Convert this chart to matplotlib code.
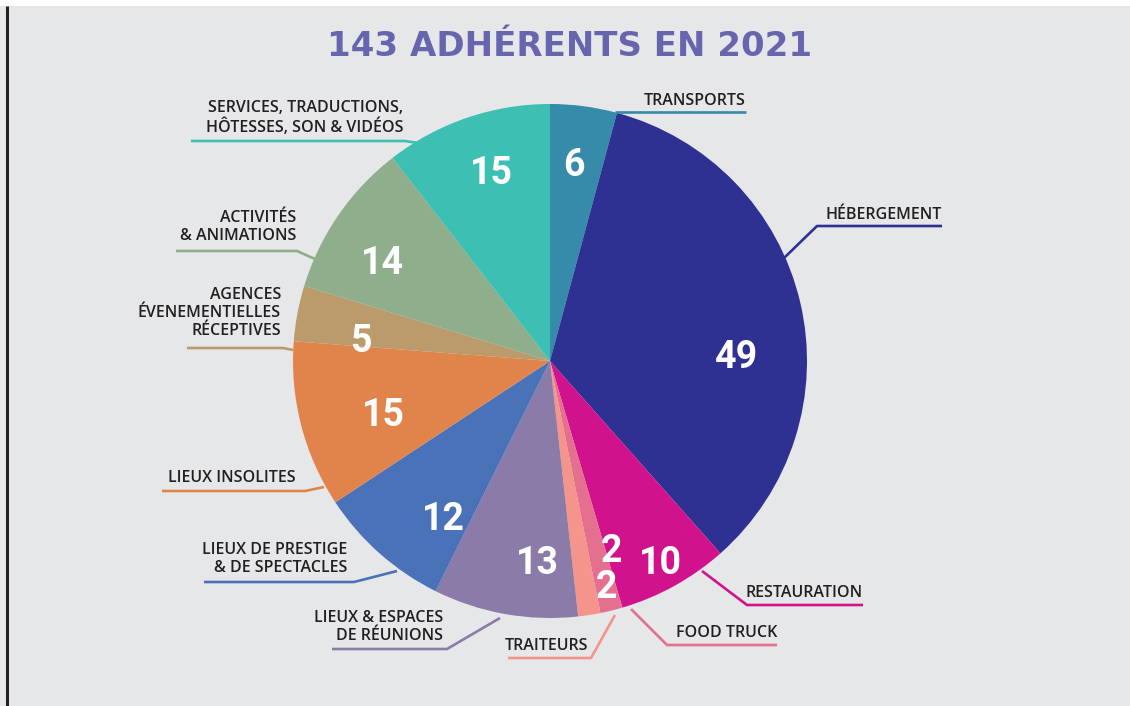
import matplotlib.pyplot as plt
from matplotlib.patches import Rectangle

# values (sum = 143)
categories = [
    "TRANSPORTS",
    "HÉBERGEMENT",
    "RESTAURATION",
    "FOOD TRUCK",
    "TRAITEURS",
    "LIEUX & ESPACES\nDE RÉUNIONS",
    "LIEUX DE PRESTIGE\n& DE SPECTACLES",
    "LIEUX INSOLITES",
    "AGENCES\nÉVENEMENTIELLES\nRÉCEPTIVES",
    "ACTIVITÉS\n& ANIMATIONS",
    "SERVICES, TRADUCTIONS,\nHÔTESSES, SON & VIDÉOS",
]
values = [6, 49, 10, 2, 2, 13, 12, 15, 5, 14, 15]
colors = ["#368aaa", "#2e3192", "#d0138c", "#e46f8e", "#f4948a", "#8b7ba8",
          "#4a72b9", "#e0844c", "#bb9b6b", "#8fae8b", "#3dbfb3"]
title = "143 ADHÉRENTS EN 2021"

# layout, in pixel coordinates of the 1130x706 canvas
center = (550, 361)
radius = 257
number_pos = [(574, 166), (737, 358), (660, 563), (611, 551), (606, 588),
              (537, 563), (443, 520), (383, 415), (361, 341), (382, 263), (491, 174)]
leaders = [
    [(615, 112), (746, 112)],
    [(783, 259), (817, 226), (942, 226)],
    [(702, 571), (747, 605), (863, 605)],
    [(631, 609), (667, 645), (777, 645)],
    [(615, 615), (591, 658), (508, 658)],
    [(500, 618), (447, 649), (332, 649)],
    [(397, 571), (354, 582), (204, 582)],
    [(324, 487), (305, 491), (162, 491)],
    [(293, 350), (283, 348), (187, 348)],
    [(315, 259), (297, 251), (176, 251)],
    [(418, 143), (405, 141), (191, 141)],
]
label_pos = [(746, 101), (942, 215), (863, 593), (777, 633), (588, 646),
             (443, 627), (347, 559), (296, 478), (281, 313), (296, 227), (403, 118)]

W, H = 1130, 706
fig = plt.figure(figsize=(W / 100, H / 100), dpi=100, facecolor="#e6e7e9")
ax = fig.add_axes([0, 0, 1, 1])
ax.set_facecolor("#e6e7e9")

# y axis is inverted, so counterclock=True reads as clockwise on screen
ax.pie(values, colors=colors, startangle=270, counterclock=True,
       center=center, radius=radius, wedgeprops={"linewidth": 0})

ax.set_xlim(0, W)
ax.set_ylim(H, 0)
ax.axis("off")

# frame bits: white strip on top, black rule on the left
ax.add_patch(Rectangle((0, 0), W, 6, facecolor="white", edgecolor="none", zorder=5))
ax.plot([7, 7], [6, H], color="#231f20", lw=2.2, zorder=5, solid_capstyle="butt")

ax.text(570, 47, title, ha="center", va="center", fontsize=24.5,
        fontweight="bold", color="#6665ad")

for val, (x, y) in zip(values, number_pos):
    ax.text(x, y, str(val), ha="center", va="center", fontsize=27,
            fontweight="bold", color="white", family=["Roboto", "DejaVu Sans"])

for lab, pts, col, (x, y) in zip(categories, leaders, colors, label_pos):
    xs = [p[0] for p in pts]
    ys = [p[1] for p in pts]
    ax.plot(xs, ys, color=col, lw=1.9, solid_capstyle="butt")
    ax.text(x, y, lab, ha="right", va="center", multialignment="right",
            fontsize=11.5, fontweight="semibold", color="#231f20",
            linespacing=1.15, family=["Open Sans", "DejaVu Sans"])

fig.savefig("out.png", dpi=100, facecolor=fig.get_facecolor())
